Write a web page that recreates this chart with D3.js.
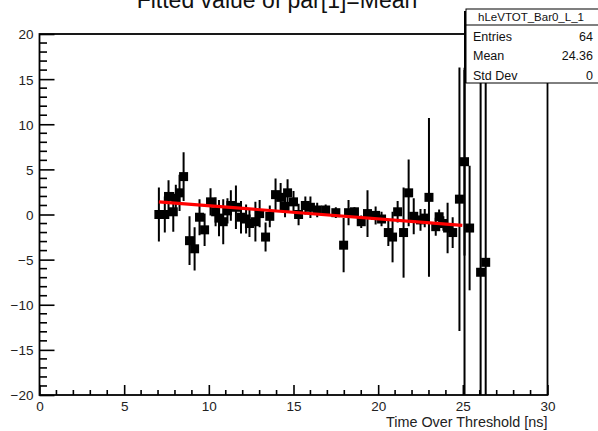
<!DOCTYPE html>
<html>
<head>
<meta charset="utf-8">
<script src="https://cdn.jsdelivr.net/npm/d3@7"></script>
<style>
  html, body { margin: 0; padding: 0; background: #fff; }
  svg { display: block; font-family: "Liberation Sans", Arial, Helvetica, sans-serif; }
</style>
</head>
<body>
<script>
// Histogram hLeVTOT_Bar0_L_1: fitted mean per Time-Over-Threshold bin
const binCenters = [
  7.05, 7.4, 7.62, 7.9, 8.05, 8.27, 8.51, 8.86, 9.16, 9.45,
  9.75, 10.1, 10.4, 10.6, 10.85, 11.1, 11.3, 11.6, 11.9, 12.2,
  12.4, 12.75, 13.0, 13.35, 13.6, 13.94, 14.24, 14.5, 14.65, 15.0,
  15.3, 15.7, 16.0, 16.4, 16.9, 17.5, 17.96, 18.25, 18.6, 19.0,
  19.37, 19.85, 20.2, 20.6, 20.85, 21.15, 21.5, 21.8, 22.1, 22.5,
  22.75, 23.0, 23.4, 23.6, 23.85, 24.1, 24.4, 24.8, 25.1, 25.1,
  25.4, 26.05, 26.35
];
const binValues = [
  0.0, 0.0, 2.0, 0.3, 1.8, 2.4, 4.2, -2.9, -3.8, -0.3,
  -1.7, 1.4, 0.3, -0.4, -0.8, 0.4, 1.0, 0.8, -0.3, -0.5,
  -1.0, -0.8, 0.1, -2.5, -0.2, 2.2, 1.9, 0.9, 2.4, 1.4,
  0.0, 1.0, 0.8, 0.5, 0.5, 0.2, -3.4, 0.2, 0.3, -0.8,
  0.1, -0.1, -0.5, -2.0, -2.5, 0.3, -2.0, 2.4, -0.2, -0.6,
  -0.4, 1.9, -1.35, -0.25, -1.0, -1.5, -2.0, 1.7, 5.85, -25.0,
  -1.5, -6.4, -5.3
];
const binErrors = [
  3.0, 2.0, 1.8, 2.2, 1.5, 2.0, 2.7, 2.7, 2.4, 2.0,
  1.8, 1.5, 1.6, 2.0, 2.5, 1.4, 1.7, 2.4, 1.8, 1.6,
  1.5, 2.2, 1.5, 1.6, 1.2, 1.8, 1.6, 1.2, 1.5, 1.2,
  1.2, 1.0, 1.2, 0.8, 0.6, 0.6, 3.0, 1.4, 0.5, 0.7,
  2.6, 1.0, 0.8, 1.5, 2.8, 1.2, 5.0, 3.7, 2.0, 1.2,
  1.0, 8.8, 1.0, 0.8, 0.8, 2.8, 1.7, 14.6, 10.4, 41.0,
  6.9, 40.0, 40.0
];

// Linear fit p0 + p1*x over the fitted range
const fitP0 = 2.42;
const fitP1 = -0.145;
const fitRange = [7.05, 24.97];

const xTickValues = [0, 5, 10, 15, 20, 25, 30];
const yTickValues = [-20, -15, -10, -5, 0, 5, 10, 15, 20];

const statsName = "hLeVTOT_Bar0_L_1";
const statsRows = [["Entries", "64"], ["Mean", "24.36"], ["Std Dev", "0"]];

const W = 598, H = 431;
const frame = { left: 39.5, right: 547.5, top: 34, bottom: 395 };

const svg = d3.select("body").append("svg").attr("width", W).attr("height", H);

const x = d3.scaleLinear().domain([0, 30]).range([frame.left, frame.right]);
const y = d3.scaleLinear().domain([-20, 20]).range([frame.bottom, frame.top]);

svg.append("defs").append("clipPath").attr("id", "frameClip")
  .append("rect")
  .attr("x", frame.left).attr("y", frame.top)
  .attr("width", frame.right - frame.left).attr("height", frame.bottom - frame.top);

// Title
svg.append("text")
  .attr("x", 277).attr("y", 8)
  .attr("text-anchor", "middle")
  .attr("font-size", 23)
  .attr("fill", "#111")
  .text("Fitted value of par[1]=Mean");

// Axes with inward ticks
const minus = s => s.replace("-", "\u2212");
const xAxis = d3.axisBottom(x).tickValues(xTickValues).tickSize(-10).tickSizeOuter(0)
  .tickFormat(d => minus(String(d)));
const yAxis = d3.axisLeft(y).tickValues(yTickValues).tickSize(-15).tickSizeOuter(0)
  .tickFormat(d => minus(String(d)));

const gx = svg.append("g").attr("transform", `translate(0,${frame.bottom})`).call(xAxis);
gx.select(".domain").remove();
gx.selectAll(".tick line").attr("stroke", "#000").attr("stroke-width", 1.6);
gx.selectAll(".tick text").attr("y", 6).attr("dy", "0.71em")
  .attr("font-size", 13.5).attr("fill", "#222").attr("font-family", "Liberation Sans, Arial, sans-serif");

const gy = svg.append("g").attr("transform", `translate(${frame.left},0)`).call(yAxis);
gy.select(".domain").remove();
gy.selectAll(".tick line").attr("stroke", "#000").attr("stroke-width", 1.6);
gy.selectAll(".tick text").attr("x", -6).attr("dy", "0.36em")
  .attr("font-size", 13.5).attr("fill", "#222").attr("font-family", "Liberation Sans, Arial, sans-serif");

// Minor ticks every 1 unit
const xMinor = d3.range(0, 31, 1).filter(v => v % 5 !== 0);
const yMinor = d3.range(-20, 21, 1).filter(v => v % 5 !== 0);
svg.append("g").selectAll("line").data(xMinor).join("line")
  .attr("x1", d => x(d)).attr("x2", d => x(d))
  .attr("y1", frame.bottom).attr("y2", frame.bottom - 5)
  .attr("stroke", "#000").attr("stroke-width", 1.6);
svg.append("g").selectAll("line").data(yMinor).join("line")
  .attr("y1", d => y(d)).attr("y2", d => y(d))
  .attr("x1", frame.left).attr("x2", frame.left + 7.5)
  .attr("stroke", "#000").attr("stroke-width", 1.6);

// Data: error bars and square markers
const points = binCenters.map((c, i) => ({ x: c, v: binValues[i], e: binErrors[i] }));
const plot = svg.append("g").attr("clip-path", "url(#frameClip)");
plot.append("g").selectAll("line").data(points).join("line")
  .attr("x1", d => x(d.x)).attr("x2", d => x(d.x))
  .attr("y1", d => y(d.v - d.e)).attr("y2", d => y(d.v + d.e))
  .attr("stroke", "#000").attr("stroke-width", 2);
const ms = 9;
plot.append("g").selectAll("rect").data(points).join("rect")
  .attr("x", d => x(d.x) - ms / 2).attr("y", d => y(d.v) - ms / 2)
  .attr("width", ms).attr("height", ms)
  .attr("fill", "#000");

// Fit function
const fitLine = d3.line().x(d => x(d)).y(d => y(fitP0 + fitP1 * d));
plot.append("path")
  .datum(fitRange)
  .attr("d", fitLine)
  .attr("fill", "none")
  .attr("stroke", "#ff0000")
  .attr("stroke-width", 3.2);

// Frame
svg.append("rect")
  .attr("x", frame.left).attr("y", frame.top)
  .attr("width", frame.right - frame.left).attr("height", frame.bottom - frame.top)
  .attr("fill", "none").attr("stroke", "#000").attr("stroke-width", 1.8);

// X axis title
svg.append("text")
  .attr("x", frame.right).attr("y", 427)
  .attr("text-anchor", "end")
  .attr("font-size", 14.4)
  .attr("fill", "#222")
  .text("Time Over Threshold [ns]");

// Statistics box
const sb = { x: 466, y: 9, w: 140, h: 74, head: 16 };
const stats = svg.append("g");
stats.append("rect")
  .attr("x", sb.x).attr("y", sb.y).attr("width", sb.w).attr("height", sb.h)
  .attr("fill", "#fff").attr("stroke", "#000").attr("stroke-width", 1);
stats.append("line")
  .attr("x1", sb.x - 1).attr("x2", sb.x - 1)
  .attr("y1", sb.y + 2).attr("y2", sb.y + sb.h)
  .attr("stroke", "#000").attr("stroke-width", 2);
stats.append("line")
  .attr("x1", sb.x).attr("x2", W)
  .attr("y1", sb.y + sb.head).attr("y2", sb.y + sb.head)
  .attr("stroke", "#000").attr("stroke-width", 1);
stats.append("text")
  .attr("x", 531).attr("y", 20.5)
  .attr("text-anchor", "middle").attr("font-size", 11.5).attr("fill", "#111")
  .text(statsName);
const rowY = [40.5, 60, 79.5];
stats.selectAll("text.lbl").data(statsRows).join("text")
  .attr("class", "lbl")
  .attr("x", 473).attr("y", (d, i) => rowY[i])
  .attr("font-size", 12.5).attr("fill", "#111")
  .text(d => d[0]);
stats.selectAll("text.val").data(statsRows).join("text")
  .attr("class", "val")
  .attr("x", 593).attr("y", (d, i) => rowY[i])
  .attr("text-anchor", "end")
  .attr("font-size", 12.5).attr("fill", "#111")
  .text(d => d[1]);
</script>
</body>
</html>
